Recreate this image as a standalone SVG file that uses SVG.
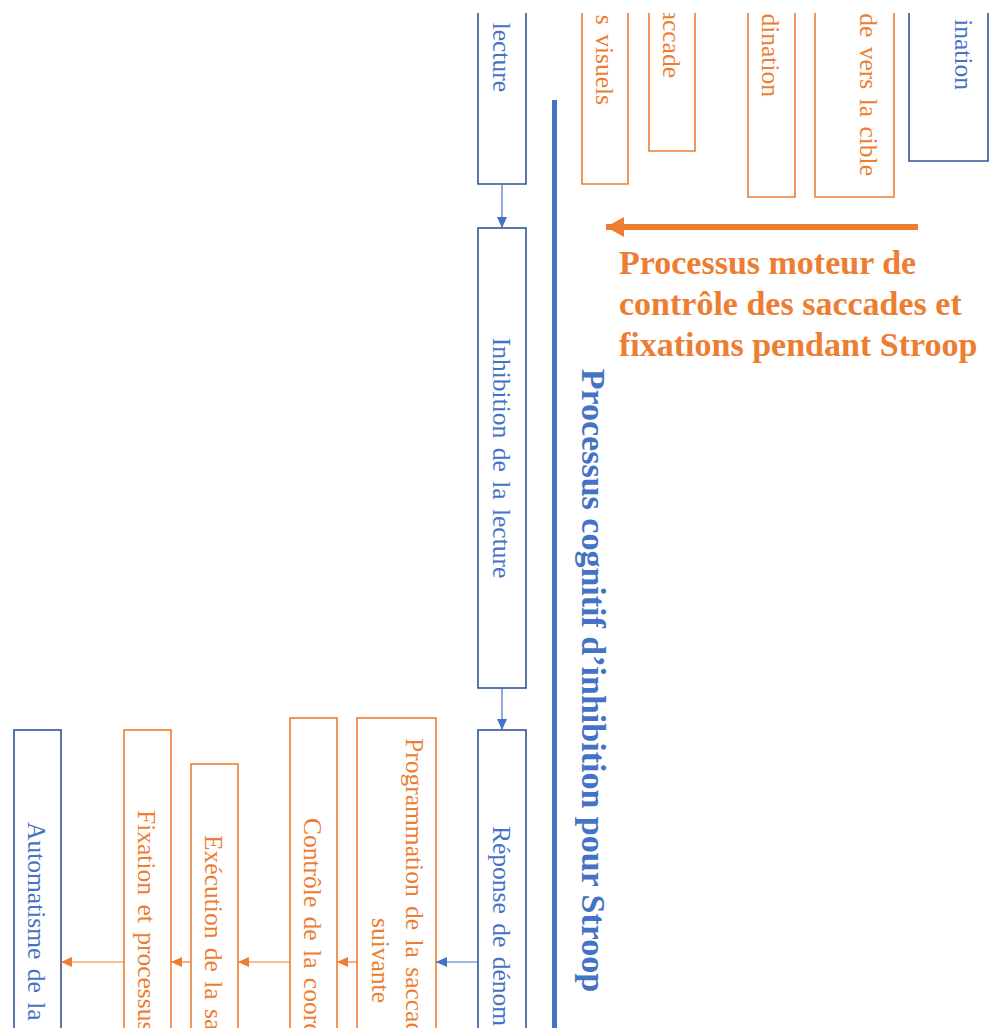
<svg xmlns="http://www.w3.org/2000/svg" width="997" height="1028" viewBox="0 0 997 1028">
  <style>
    .bb { fill: #ffffff; stroke: #2F5597; stroke-width: 1.6; }
    .ob { fill: #ffffff; stroke: #ED7D31; stroke-width: 1.6; }
    .bt { font-family: "Liberation Serif", "Times New Roman", serif; font-size: 25.5px; fill: #4472C4; word-spacing: 3px; }
    .ot { font-family: "Liberation Serif", "Times New Roman", serif; font-size: 25.5px; fill: #ED7D31; word-spacing: 3px; }
    .bl { stroke: #4472C4; stroke-width: 1.2; fill: none; }
    .ol { stroke: #ED7D31; stroke-width: 1.2; fill: none; }
    .head { font-family: "Liberation Serif", "Times New Roman", serif; font-size: 34px; font-weight: bold; }
  </style>
  <defs>
    <clipPath id="crop" clipPathUnits="userSpaceOnUse">
      <rect x="0" y="13" width="997" height="1015"/>
    </clipPath>
    <marker id="ab" markerUnits="userSpaceOnUse" markerWidth="11" markerHeight="10" refX="11" refY="5" orient="auto">
      <path d="M0,0 L11,5 L0,10 z" fill="#4472C4"/>
    </marker>
    <marker id="ao" markerUnits="userSpaceOnUse" markerWidth="11" markerHeight="10" refX="11" refY="5" orient="auto">
      <path d="M0,0 L11,5 L0,10 z" fill="#ED7D31"/>
    </marker>
    <marker id="big" markerUnits="userSpaceOnUse" markerWidth="18" markerHeight="20" refX="18" refY="10" orient="auto">
      <path d="M0,0 L18,10 L0,20 z" fill="#ED7D31"/>
    </marker>
  </defs>

  <rect width="997" height="1028" fill="#ffffff"/>

  <!-- upper row, running past the top edge -->
  <g id="n-lecture-top" clip-path="url(#crop)">
    <path class="bb" d="M478,13 V184 H526 V13"/>
    <text class="bt" text-anchor="end" transform="translate(492.5,92) rotate(90)">lecture</text>
  </g>
  <g id="n-visuels" clip-path="url(#crop)">
    <path class="ob" d="M582,13 V184 H628 V13"/>
    <text class="ot" text-anchor="end" transform="translate(595.5,105) rotate(90)">s visuels</text>
  </g>
  <g id="n-saccade" clip-path="url(#crop)">
    <path class="ob" d="M649,13 V151 H695 V13"/>
    <text class="ot" text-anchor="end" transform="translate(662.5,78) rotate(90)">accade</text>
  </g>
  <g id="n-coordination" clip-path="url(#crop)">
    <path class="ob" d="M748,13 V197 H795 V13"/>
    <text class="ot" text-anchor="end" transform="translate(762,97) rotate(90)">dination</text>
  </g>
  <g id="n-cible" clip-path="url(#crop)">
    <path class="ob" d="M815,13 V197 H894 V13"/>
    <text class="ot" text-anchor="end" transform="translate(860,176) rotate(90)">de vers la cible</text>
  </g>
  <g id="n-denomination-top" clip-path="url(#crop)">
    <path class="bb" d="M909,13 V161 H988 V13"/>
    <text class="bt" text-anchor="end" transform="translate(955,90) rotate(90)">ination</text>
  </g>

  <!-- cognitive chain -->
  <g id="n-inhibition">
    <rect class="bb" x="478" y="228" width="48" height="460"/>
    <text class="bt" text-anchor="middle" transform="translate(492.5,458) rotate(90)">Inhibition de la lecture</text>
  </g>
  <g id="n-reponse">
    <rect class="bb" x="478" y="730" width="48" height="340"/>
    <text class="bt" transform="translate(492.5,826) rotate(90)">Réponse de dénom</text>
  </g>

  <!-- lower row -->
  <g id="n-programmation">
    <rect class="ob" x="357" y="718" width="79" height="360"/>
    <text class="ot" transform="translate(406,738) rotate(90)">Programmation de la saccad</text>
    <text class="ot" transform="translate(372,918) rotate(90)">suivante</text>
  </g>
  <g id="n-controle">
    <rect class="ob" x="290" y="718" width="47" height="360"/>
    <text class="ot" transform="translate(304,818) rotate(90)">Contrôle de la coord</text>
  </g>
  <g id="n-execution">
    <rect class="ob" x="191" y="764" width="47" height="320"/>
    <text class="ot" transform="translate(205,835) rotate(90)">Exécution de la sa</text>
  </g>
  <g id="n-fixation">
    <rect class="ob" x="124" y="730" width="47" height="340"/>
    <text class="ot" transform="translate(138,810) rotate(90)">Fixation et processus</text>
  </g>
  <g id="n-automatisme">
    <rect class="bb" x="14" y="730" width="47" height="340"/>
    <text class="bt" transform="translate(28,822) rotate(90)">Automatisme de la</text>
  </g>

  <!-- axis line and titles -->
  <g id="axes">
    <rect x="552" y="100" width="5" height="928" fill="#4472C4"/>
    <text class="head" fill="#4472C4" text-anchor="middle" transform="translate(582,680.5) rotate(90)">Processus cognitif d’inhibition pour Stroop</text>
    <text class="head" fill="#ED7D31" x="619" y="274">Processus moteur de</text>
    <text class="head" fill="#ED7D31" x="619" y="315">contrôle des saccades et</text>
    <text class="head" fill="#ED7D31" x="619" y="356">fixations pendant Stroop</text>
  </g>

  <!-- connectors -->
  <g id="connectors">
    <line class="bl" x1="502" y1="184" x2="502" y2="228" marker-end="url(#ab)"/>
    <line class="bl" x1="502" y1="688" x2="502" y2="730" marker-end="url(#ab)"/>
    <line class="bl" x1="478" y1="962" x2="436" y2="962" marker-end="url(#ab)"/>
    <line class="ol" x1="357" y1="962" x2="337" y2="962" marker-end="url(#ao)"/>
    <line class="ol" x1="290" y1="962" x2="238" y2="962" marker-end="url(#ao)"/>
    <line class="ol" x1="191" y1="962" x2="171" y2="962" marker-end="url(#ao)"/>
    <line class="ol" x1="124" y1="962" x2="61" y2="962" marker-end="url(#ao)"/>
    <line x1="918" y1="227" x2="606" y2="227" stroke="#ED7D31" stroke-width="6" marker-end="url(#big)"/>
  </g>
</svg>
